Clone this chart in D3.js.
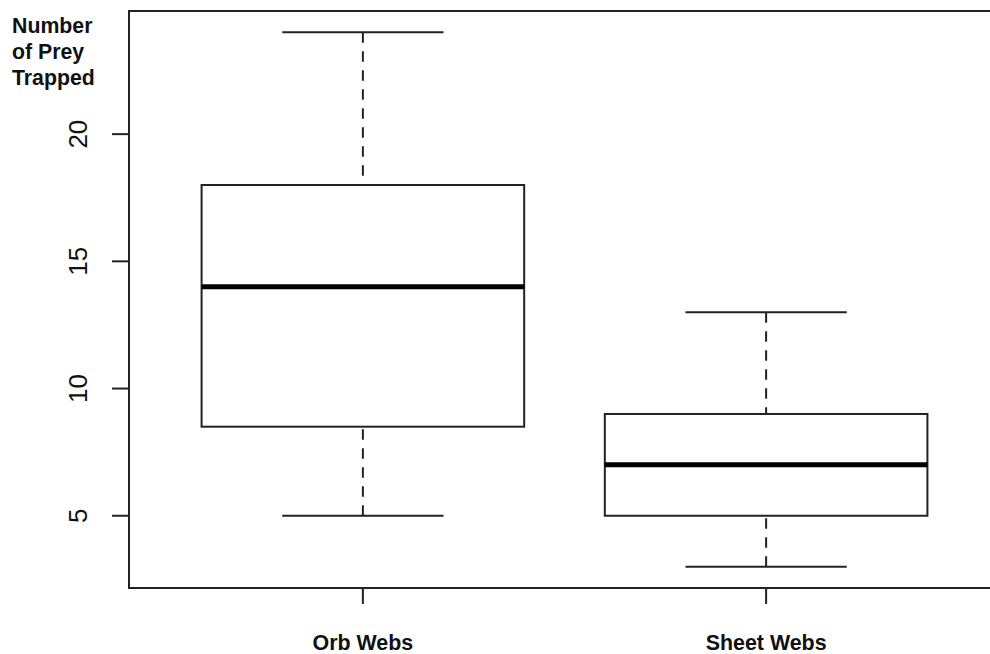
<!DOCTYPE html>
<html>
<head>
<meta charset="utf-8">
<script src="https://cdn.jsdelivr.net/npm/d3@7"></script>
<style>
  html, body { margin: 0; padding: 0; background: #fff; }
  svg { display: block; }
</style>
</head>
<body>
<svg id="chart" width="990" height="654"></svg>
<script>
// ---- data ----
const categories = ["Orb Webs", "Sheet Webs"];
const whiskerLow  = [5, 3];
const q1          = [8.5, 5];
const median      = [14, 7];
const q3          = [18, 9];
const whiskerHigh = [24, 13];
const yTicks      = [5, 10, 15, 20];
const yLabelLines = ["Number", "of Prey", "Trapped"];

// ---- layout ----
(function () {
const svg = d3.select("#chart");
const mLeft = 129, mTop = 11, mBottom = 588, mRight = 1000;

const x = d3.scaleLinear().domain([0.42, 2.58]).range([mLeft, mRight]);
const y = d3.scaleLinear().domain([2.16, 24.84]).range([mBottom, mTop]);

const stroke = "#222";
const font = "'Liberation Sans', Arial, Helvetica, sans-serif";

const data = categories.map((c, i) => ({
  cat: c, pos: i + 1,
  lo: whiskerLow[i], q1: q1[i], med: median[i], q3: q3[i], hi: whiskerHigh[i]
}));

const g = svg.append("g");

// whiskers (dashed), drawn from the cap toward the box
g.append("g").selectAll("line").data(data).join("line")
  .attr("x1", d => x(d.pos)).attr("x2", d => x(d.pos))
  .attr("y1", d => y(d.hi)).attr("y2", d => y(d.q3))
  .attr("stroke", stroke).attr("stroke-width", 2).attr("stroke-dasharray", "10.5,8.5");
g.append("g").selectAll("line").data(data).join("line")
  .attr("x1", d => x(d.pos)).attr("x2", d => x(d.pos))
  .attr("y1", d => y(d.lo)).attr("y2", d => y(d.q1))
  .attr("stroke", stroke).attr("stroke-width", 2).attr("stroke-dasharray", "10.5,8.5");

// caps
["hi", "lo"].forEach(k => {
  g.append("g").selectAll("line").data(data).join("line")
    .attr("x1", d => x(d.pos - 0.2)).attr("x2", d => x(d.pos + 0.2))
    .attr("y1", d => y(d[k])).attr("y2", d => y(d[k]))
    .attr("stroke", stroke).attr("stroke-width", 2);
});

// boxes
g.append("g").selectAll("rect").data(data).join("rect")
  .attr("x", d => x(d.pos - 0.4))
  .attr("width", d => x(d.pos + 0.4) - x(d.pos - 0.4))
  .attr("y", d => y(d.q3))
  .attr("height", d => y(d.q1) - y(d.q3))
  .attr("fill", "#fff").attr("stroke", stroke).attr("stroke-width", 2);

// medians
g.append("g").selectAll("line").data(data).join("line")
  .attr("x1", d => x(d.pos - 0.4)).attr("x2", d => x(d.pos + 0.4))
  .attr("y1", d => y(d.med)).attr("y2", d => y(d.med))
  .attr("stroke", "#000").attr("stroke-width", 5);

// frame
svg.append("rect")
  .attr("x", mLeft).attr("y", mTop)
  .attr("width", mRight - mLeft).attr("height", mBottom - mTop)
  .attr("fill", "none").attr("stroke", stroke).attr("stroke-width", 2);

// y axis ticks + labels
const yAxis = svg.append("g");
yAxis.selectAll("line").data(yTicks).join("line")
  .attr("x1", mLeft - 17).attr("x2", mLeft)
  .attr("y1", d => y(d)).attr("y2", d => y(d))
  .attr("stroke", stroke).attr("stroke-width", 2);
yAxis.selectAll("text").data(yTicks).join("text")
  .attr("transform", d => `translate(87,${y(d)}) rotate(-90)`)
  .attr("text-anchor", "middle")
  .attr("font-family", font).attr("font-size", 26).attr("fill", "#111")
  .text(d => d);

// x axis ticks + labels
const xAxis = svg.append("g");
xAxis.selectAll("line").data(data).join("line")
  .attr("x1", d => x(d.pos)).attr("x2", d => x(d.pos))
  .attr("y1", mBottom).attr("y2", mBottom + 16)
  .attr("stroke", stroke).attr("stroke-width", 2);
xAxis.selectAll("text").data(data).join("text")
  .attr("x", d => x(d.pos)).attr("y", 650)
  .attr("text-anchor", "middle")
  .attr("font-family", font).attr("font-size", 21.4).attr("font-weight", "bold").attr("fill", "#111")
  .text(d => d.cat);

// y label
svg.append("g").selectAll("text").data(yLabelLines).join("text")
  .attr("x", 12).attr("y", (d, i) => 33 + i * 26)
  .attr("font-family", font).attr("font-size", 21.3).attr("font-weight", "bold").attr("fill", "#111")
  .text(d => d);
})();
</script>
</body>
</html>
